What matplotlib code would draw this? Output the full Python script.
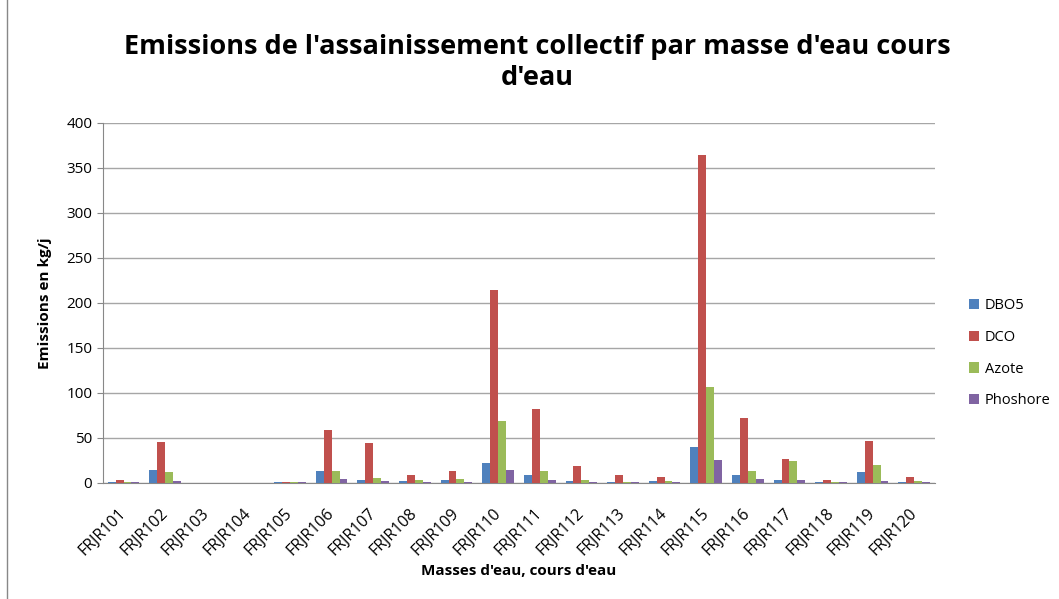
import numpy as np
import matplotlib
matplotlib.use("Agg")
import matplotlib.pyplot as plt
from matplotlib.patches import Rectangle

plt.rcParams["font.family"] = ["Open Sans", "DejaVu Sans"]

categories = ["FRJR101", "FRJR102", "FRJR103", "FRJR104", "FRJR105", "FRJR106",
              "FRJR107", "FRJR108", "FRJR109", "FRJR110", "FRJR111", "FRJR112",
              "FRJR113", "FRJR114", "FRJR115", "FRJR116", "FRJR117", "FRJR118",
              "FRJR119", "FRJR120"]
dbo5 = [1, 14.5, 0, 0, 1, 12.6, 3, 2, 3, 22, 8.5, 2, 1, 2.2, 39.6, 8.5, 3, 1, 12, 1]
dco = [3, 45, 0, 0, 1, 59, 44.5, 8.5, 12.6, 214, 82, 18.5, 8.5, 6.7, 364, 71.5, 26, 3, 46.5, 6]
azote = [1, 11.5, 0, 0, 1, 13.3, 5.5, 3, 3.7, 69, 13.3, 3, 1, 2.2, 106, 13.3, 24, 1, 20, 2.2]
phosphore = [1, 2.2, 0, 0, 1, 4.5, 2, 1, 1, 14.4, 3, 1, 1, 1, 25, 3.7, 3, 1, 2.2, 1]

series = [("DBO5", dbo5, "#4F81BD"), ("DCO", dco, "#C0504D"),
          ("Azote", azote, "#9BBB59"), ("Phoshore", phosphore, "#8064A2")]

fig = plt.figure(figsize=(10.59, 5.99), dpi=100)
ax = fig.add_axes([0.097, 0.194, 0.786, 0.601])

# chart border like the spreadsheet frame
fig.patches.append(Rectangle((0.007, -0.01), 1.2, 1.2, transform=fig.transFigure,
                             fill=False, ec="#888888", lw=1.0))

x = np.arange(len(categories))
w = 0.19
for i, (name, vals, col) in enumerate(series):
    ax.bar(x + (i - 1.5) * w, vals, w, color=col, label=name, zorder=3)

ax.set_xlim(-0.5, len(categories) - 0.5)
ax.set_ylim(0, 400)
ax.set_yticks(range(0, 401, 50))
ax.yaxis.grid(True, color="#a6a6a6", lw=1.0, zorder=0)
ax.tick_params(axis="y", labelsize=11, length=4, color="#888888")
ax.tick_params(axis="x", length=0, labelsize=11.5, pad=20)
ax.set_xticks(x)
ax.set_xticklabels(categories, rotation=45, ha="right", va="center",
                   rotation_mode="anchor")
for s in ["top", "right"]:
    ax.spines[s].set_visible(False)
ax.spines["left"].set_color("#888888")
ax.spines["bottom"].set_color("#888888")

ax.set_ylabel("Emissions en kg/j", fontsize=11, fontweight="bold", labelpad=10)
ax.set_xlabel("Masses d'eau, cours d'eau", fontsize=11, fontweight="bold", labelpad=4)

fig.text(0.507, 0.895, "Emissions de l'assainissement collectif par masse d'eau cours\nd'eau",
         ha="center", va="center", fontsize=19.5, fontweight="bold", linespacing=1.25)

ax.legend(loc="center left", bbox_to_anchor=(1.025, 0.36), frameon=False,
          fontsize=10.5, handlelength=0.7, handleheight=0.7, labelspacing=1.15,
          handletextpad=0.4)

fig.savefig("out.png", dpi=100)
